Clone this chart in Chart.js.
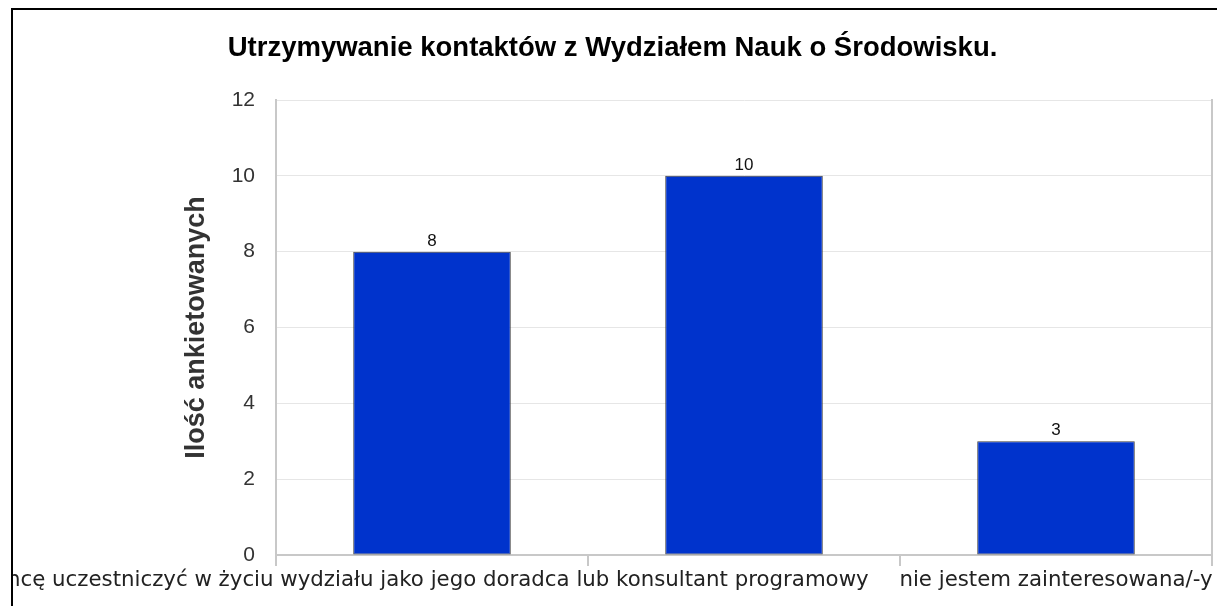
<!DOCTYPE html>
<html lang="pl">
<head>
<meta charset="utf-8">
<title>Utrzymywanie kontaktów z Wydziałem Nauk o Środowisku</title>
<script src="https://cdn.jsdelivr.net/npm/chart.js@4/dist/chart.umd.min.js"></script>
<style>
    html, body {
        margin: 0;
        padding: 0;
        background: #ffffff;
        overflow: hidden;
    }

    .ramka {
        position: absolute;
        left: 11px;
        top: 8px;
        width: 1204px;
        height: 596px;
        border-left: 2px solid #000000;
        border-top: 2px solid #000000;
        overflow: hidden;
    }
</style>
</head>
<body>
<div class="ramka">
    <canvas id="wykres" width="1204" height="596"></canvas>
</div>

<script>
const kategorie = [
    "chcę uczestniczyć w życiu wydziału jako jego doradca lub konsultant programowy",
    "",
    "nie jestem zainteresowana/-y"
];

const iloscAnkietowanych = [8, 10, 3];

const podzialkaY = [0, 2, 4, 6, 8, 10, 12];


const etykietyWartosci = {
    id: "etykietyWartosci",
    afterDatasetsDraw(chart) {
        const ctx = chart.ctx;
        const meta = chart.getDatasetMeta(0);

        ctx.save();
        ctx.font = "17px 'Liberation Sans', Arial, sans-serif";
        ctx.fillStyle = "#111111";
        ctx.textAlign = "center";
        ctx.textBaseline = "bottom";

        meta.data.forEach((slupek, i) => {
            ctx.fillText(String(iloscAnkietowanych[i]), slupek.x, slupek.y - 2);
        });

        ctx.restore();
    }
};


function rysujWykres() {
    const ctx = document.getElementById("wykres").getContext("2d");

    new Chart(ctx, {
        type: "bar",
        data: {
            labels: kategorie,
            datasets: [
                {
                    data: iloscAnkietowanych,
                    backgroundColor: "#0033CC",
                    borderColor: "#404040",
                    borderWidth: 1,
                    borderSkipped: false,
                    barPercentage: 0.505,
                    categoryPercentage: 1
                }
            ]
        },
        options: {
            responsive: false,
            animation: false,
            layout: {
                padding: { top: 0, left: 0, right: 5, bottom: 0 }
            },
            plugins: {
                legend: { display: false },
                tooltip: { enabled: false },
                title: {
                    display: true,
                    text: "Utrzymywanie kontaktów z Wydziałem Nauk o Środowisku.",
                    color: "#000000",
                    font: {
                        family: "'Liberation Sans', Arial, sans-serif",
                        size: 27.5,
                        weight: "bold"
                    },
                    padding: { top: 22, bottom: 35 }
                }
            },
            scales: {
                x: {
                    offset: true,
                    grid: {
                        offset: true,
                        drawOnChartArea: false,
                        drawTicks: true,
                        tickLength: 11,
                        color: "#c8c8c8",
                        lineWidth: 2
                    },
                    border: {
                        color: "#c8c8c8",
                        width: 2
                    },
                    ticks: {
                        autoSkip: false,
                        maxRotation: 0,
                        minRotation: 0,
                        padding: 2,
                        color: "#222222",
                        font: {
                            family: "'DejaVu Sans', sans-serif",
                            size: 21.3
                        }
                    },
                    afterFit(skala) {
                        skala.paddingLeft = 0;
                        skala.paddingRight = 0;
                        skala.height = 51;
                    }
                },
                y: {
                    min: podzialkaY[0],
                    max: podzialkaY[podzialkaY.length - 1],
                    grid: {
                        drawTicks: false,
                        color: "#e6e6e6",
                        lineWidth: 1
                    },
                    border: {
                        color: "#c8c8c8",
                        width: 2
                    },
                    ticks: {
                        stepSize: podzialkaY[1] - podzialkaY[0],
                        padding: 21,
                        color: "#333333",
                        font: {
                            family: "'Liberation Sans', Arial, sans-serif",
                            size: 21
                        }
                    },
                    title: {
                        display: true,
                        text: "Ilość ankietowanych",
                        color: "#333333",
                        font: {
                            family: "'Liberation Sans', Arial, sans-serif",
                            size: 27,
                            weight: "bold"
                        },
                        padding: { top: 167, bottom: 0 }
                    },
                    afterFit(skala) {
                        skala.paddingTop = 0;
                        skala.paddingBottom = 0;
                        skala.width = 263;
                    }
                },
                y2: {
                    display: true,
                    position: "right",
                    grid: {
                        drawOnChartArea: false,
                        drawTicks: false
                    },
                    border: {
                        color: "#c8c8c8",
                        width: 2
                    },
                    ticks: { display: false },
                    afterFit(skala) {
                        skala.width = 0;
                    }
                }
            }
        },
        plugins: [etykietyWartosci]
    });
}


document.addEventListener("DOMContentLoaded", rysujWykres);
</script>
</body>
</html>
